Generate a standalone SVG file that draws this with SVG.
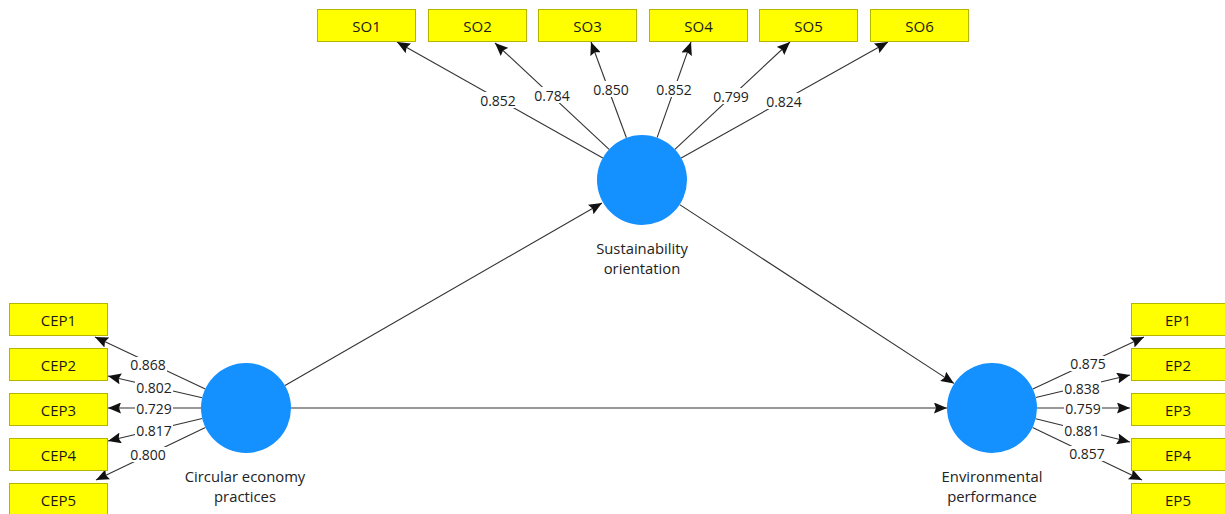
<svg xmlns="http://www.w3.org/2000/svg" width="1225" height="514" viewBox="0 0 1225 514">
<style>
.box{fill:#ffff00;stroke:#b5b500;stroke-width:1}
.bt{font-family:"Open Sans","Noto Sans",sans-serif;font-size:15px;fill:#1a1a1a;text-anchor:middle;dominant-baseline:central}
.lv{fill:#1590ff}
.lt{font-family:"Open Sans","Noto Sans",sans-serif;font-size:14.8px;fill:#222;text-anchor:middle}
.ln{stroke:#333;stroke-width:1.1;fill:none;marker-end:url(#ah)}
.nb{fill:#fff}
.nt{font-family:"Open Sans","Noto Sans",sans-serif;font-size:14px;fill:#222;text-anchor:middle;dominant-baseline:central}
</style>
<defs>
<marker id="ah" markerUnits="userSpaceOnUse" markerWidth="14" markerHeight="11" refX="13" refY="5.5" orient="auto">
<path d="M0,0 L13,5.5 L0,11 L2,5.5 z" fill="#111"/>
</marker>
</defs>
<rect width="1225" height="514" fill="#fff"/>
<g id="connectors">
<line class="ln" x1="602.8" y1="157.9" x2="397" y2="42"/>
<line class="ln" x1="609.1" y1="149.3" x2="495" y2="43"/>
<line class="ln" x1="626.4" y1="137.8" x2="591" y2="42"/>
<line class="ln" x1="657.1" y1="137.6" x2="691" y2="42"/>
<line class="ln" x1="674.9" y1="149.3" x2="790" y2="42"/>
<line class="ln" x1="681.2" y1="158" x2="888" y2="42"/>
<line class="ln" x1="205.3" y1="388.9" x2="95" y2="337"/>
<line class="ln" x1="202.2" y1="397.8" x2="108" y2="376"/>
<line class="ln" x1="201" y1="408" x2="108" y2="408"/>
<line class="ln" x1="202.2" y1="418.5" x2="108" y2="441"/>
<line class="ln" x1="205.4" y1="427.5" x2="96" y2="480"/>
<line class="ln" x1="1032.8" y1="389" x2="1144" y2="337"/>
<line class="ln" x1="1035.8" y1="397.5" x2="1130" y2="375"/>
<line class="ln" x1="1037" y1="408" x2="1130" y2="408"/>
<line class="ln" x1="1035.7" y1="418.8" x2="1130" y2="442"/>
<line class="ln" x1="1032.6" y1="427.5" x2="1142" y2="480"/>
<line class="ln" x1="285" y1="385.5" x2="602" y2="203"/>
<line class="ln" x1="679.7" y1="204.6" x2="954" y2="383.4"/>
<line class="ln" x1="291" y1="408" x2="947" y2="408"/>
<g id="weights">
<rect class="nb" x="479" y="92" width="38" height="16"/><text class="nt" x="498" y="100">0.852</text>
<rect class="nb" x="533" y="87" width="38" height="16"/><text class="nt" x="552" y="95">0.784</text>
<rect class="nb" x="592" y="81" width="38" height="16"/><text class="nt" x="611" y="89">0.850</text>
<rect class="nb" x="655" y="81" width="38" height="16"/><text class="nt" x="674" y="89">0.852</text>
<rect class="nb" x="712" y="88" width="38" height="16"/><text class="nt" x="731" y="96">0.799</text>
<rect class="nb" x="765" y="93" width="38" height="16"/><text class="nt" x="784" y="101">0.824</text>
<rect class="nb" x="129" y="357" width="38" height="15"/><text class="nt" x="148" y="364">0.868</text>
<rect class="nb" x="135" y="380" width="38" height="15"/><text class="nt" x="154" y="387">0.802</text>
<rect class="nb" x="135" y="401" width="38" height="15"/><text class="nt" x="154" y="408">0.729</text>
<rect class="nb" x="135" y="423" width="38" height="15"/><text class="nt" x="154" y="430">0.817</text>
<rect class="nb" x="129" y="447" width="38" height="15"/><text class="nt" x="148" y="454">0.800</text>
<rect class="nb" x="1069" y="356" width="38" height="15"/><text class="nt" x="1088" y="363">0.875</text>
<rect class="nb" x="1063" y="381" width="38" height="15"/><text class="nt" x="1082" y="388">0.838</text>
<rect class="nb" x="1064" y="401" width="38" height="15"/><text class="nt" x="1083" y="408">0.759</text>
<rect class="nb" x="1063" y="423" width="38" height="15"/><text class="nt" x="1082" y="430">0.881</text>
<rect class="nb" x="1068" y="446" width="38" height="15"/><text class="nt" x="1087" y="453">0.857</text>
</g>
</g>
<g id="SO"><circle class="lv" cx="642" cy="180" r="45"/><text class="lt" x="642" y="254">Sustainability</text><text class="lt" x="642" y="274">orientation</text></g>
<g id="CEP"><circle class="lv" cx="246" cy="408" r="45"/><text class="lt" x="245" y="482">Circular economy</text><text class="lt" x="245" y="502">practices</text></g>
<g id="EP"><circle class="lv" cx="992" cy="408" r="45"/><text class="lt" x="992" y="482">Environmental</text><text class="lt" x="992" y="502">performance</text></g>
<g id="SO1"><rect class="box" x="317.5" y="9.5" width="98" height="32"/><text class="bt" x="366.5" y="26">SO1</text></g>
<g id="SO2"><rect class="box" x="428.5" y="9.5" width="98" height="32"/><text class="bt" x="477.5" y="26">SO2</text></g>
<g id="SO3"><rect class="box" x="538.5" y="9.5" width="98" height="32"/><text class="bt" x="587.5" y="26">SO3</text></g>
<g id="SO4"><rect class="box" x="649.5" y="9.5" width="98" height="32"/><text class="bt" x="698.5" y="26">SO4</text></g>
<g id="SO5"><rect class="box" x="759.5" y="9.5" width="98" height="32"/><text class="bt" x="808.5" y="26">SO5</text></g>
<g id="SO6"><rect class="box" x="870.5" y="9.5" width="98" height="32"/><text class="bt" x="919.5" y="26">SO6</text></g>
<g id="CEP1"><rect class="box" x="9.5" y="303.5" width="98" height="32"/><text class="bt" x="58.5" y="320">CEP1</text></g>
<g id="CEP2"><rect class="box" x="9.5" y="348.5" width="98" height="32"/><text class="bt" x="58.5" y="365">CEP2</text></g>
<g id="CEP3"><rect class="box" x="9.5" y="393.5" width="98" height="32"/><text class="bt" x="58.5" y="410">CEP3</text></g>
<g id="CEP4"><rect class="box" x="9.5" y="438.5" width="98" height="32"/><text class="bt" x="58.5" y="455">CEP4</text></g>
<g id="CEP5"><rect class="box" x="9.5" y="483.5" width="98" height="32"/><text class="bt" x="58.5" y="500">CEP5</text></g>
<g id="EP1"><rect class="box" x="1131.5" y="303.5" width="98" height="32"/><text class="bt" x="1178" y="320">EP1</text></g>
<g id="EP2"><rect class="box" x="1131.5" y="348.5" width="98" height="32"/><text class="bt" x="1178" y="365">EP2</text></g>
<g id="EP3"><rect class="box" x="1131.5" y="393.5" width="98" height="32"/><text class="bt" x="1178" y="410">EP3</text></g>
<g id="EP4"><rect class="box" x="1131.5" y="438.5" width="98" height="32"/><text class="bt" x="1178" y="455">EP4</text></g>
<g id="EP5"><rect class="box" x="1131.5" y="483.5" width="98" height="32"/><text class="bt" x="1178" y="500">EP5</text></g>
</svg>
